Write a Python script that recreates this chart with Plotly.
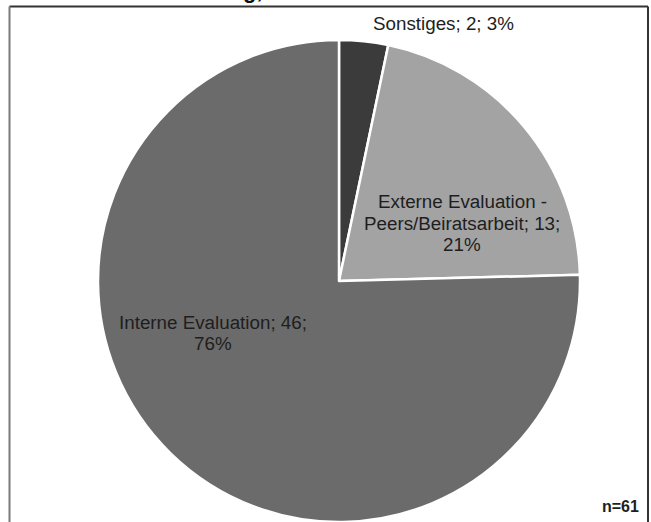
import plotly.graph_objects as go

W, H = 651, 522

categories = ["Sonstiges", "Externe Evaluation -", "Interne Evaluation"]
category_line2 = ["", "Peers/Beiratsarbeit", ""]
values = [2, 13, 46]
percent_labels = ["3%", "21%", "76%"]
colors = ["#3b3b3b", "#a3a3a3", "#6b6b6b"]
n_total = "n=61"

# label lines built from the arrays
label_lines = [
    [f"{categories[0]}; {values[0]}; {percent_labels[0]}"],
    [categories[1], f"{category_line2[1]}; {values[1]};", percent_labels[1]],
    [f"{categories[2]}; {values[2]};", percent_labels[2]],
]
label_pos = [(443, 23), (462, 202), (213, 322)]
LINE_STEP = 21.3

def px(x, y):
    return x / W, 1 - y / H

fig = go.Figure()
fig.add_trace(go.Pie(
    labels=[c + (" " + l2 if l2 else "") for c, l2 in zip(categories, category_line2)],
    values=values,
    sort=False,
    direction="clockwise",
    rotation=0,
    marker=dict(colors=colors, line=dict(color="white", width=2.5)),
    textinfo="none",
    hoverinfo="label+value",
    showlegend=False,
    domain=dict(x=[98 / W, 580 / W], y=[0, 1 - 40 / H]),
))

font = dict(family="Liberation Sans, Arial, sans-serif", size=18.8, color="#1e1e1e")
for lines, (x, y) in zip(label_lines, label_pos):
    for i, t in enumerate(lines):
        ax, ay = px(x, y + i * LINE_STEP)
        fig.add_annotation(text=t, x=ax, y=ay, xref="paper", yref="paper",
                           showarrow=False, font=font, align="center",
                           xanchor="center", yanchor="middle")

fx, fy = px(641, 506)
fig.add_annotation(text=f"<b>{n_total}</b>", x=fx, y=fy, xref="paper", yref="paper",
                   showarrow=False, xanchor="right", yanchor="middle",
                   font=dict(family="Liberation Sans, Arial, sans-serif", size=16, color="#1e1e1e"))

# cropped title fragment (cut by the top edge, as in the reference)
tx, ty = px(253, 5)
fig.add_annotation(text="<b>g,</b>", x=tx, y=ty, xref="paper", yref="paper",
                   showarrow=False, xanchor="center", yanchor="bottom",
                   font=dict(family="Liberation Sans, Arial, sans-serif", size=22, color="#111"))

# frame
x0, y0 = px(9.5, 6.5)
x1, _ = px(648, 6.5)
fig.add_shape(type="line", xref="paper", yref="paper", x0=x0, y0=y0, x1=x1, y1=y0,
              line=dict(color="#333333", width=2))
fig.add_shape(type="line", xref="paper", yref="paper", x0=x0, y0=y0, x1=x0, y1=-0.05,
              line=dict(color="#7a7a7a", width=2))
fig.add_shape(type="line", xref="paper", yref="paper", x0=x1, y0=y0, x1=x1, y1=-0.05,
              line=dict(color="#333333", width=2))

fig.update_layout(
    width=W, height=H,
    margin=dict(l=0, r=0, t=0, b=0),
    paper_bgcolor="white", plot_bgcolor="white",
)

fig.write_html("out.html")
